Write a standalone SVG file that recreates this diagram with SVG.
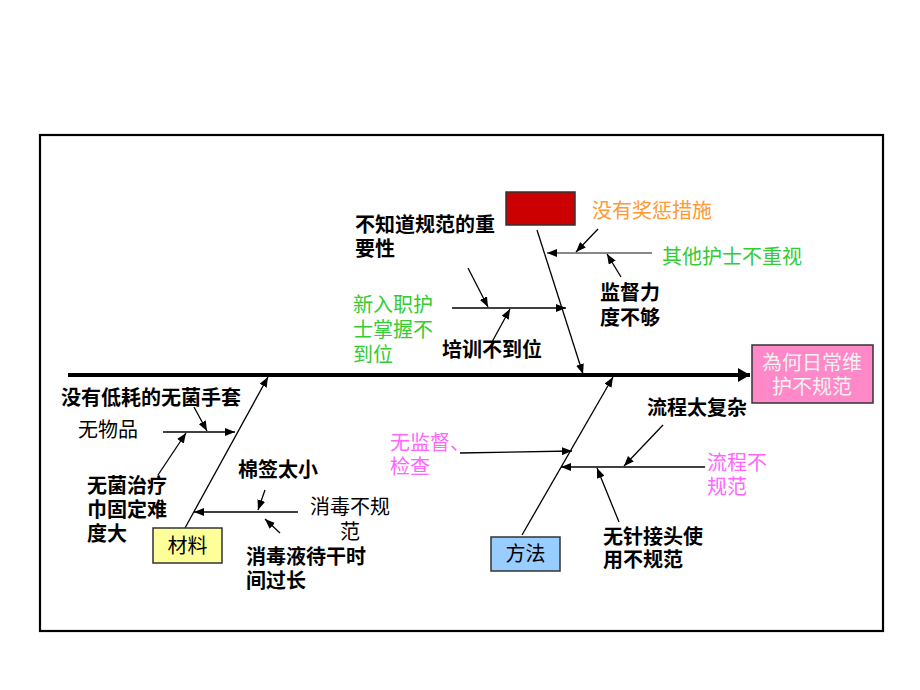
<svg xmlns="http://www.w3.org/2000/svg" width="920" height="690" viewBox="0 0 920 690">
<defs>
<marker id="a" markerUnits="userSpaceOnUse" markerWidth="10" markerHeight="8" refX="10" refY="4" orient="auto"><path d="M0,0 L10,4 L0,8 z" fill="#000"/></marker>
<marker id="big" markerUnits="userSpaceOnUse" markerWidth="12" markerHeight="14" refX="12" refY="7" orient="auto"><path d="M0,0 L12,7 L0,14 z" fill="#000"/></marker>
</defs>
<style>
text{font-family:"Liberation Sans","Noto Sans CJK SC",sans-serif;font-size:20px}
.b{font-weight:bold;fill:#000}
.r{fill:#000}
.o{fill:#FF9933}
.g{fill:#33CC33}
.m{fill:#FF66FF}
.ln{stroke:#000;stroke-width:1.3;fill:none}
.ar{stroke:#000;stroke-width:1.3;fill:none;marker-end:url(#a)}
.box{stroke:#333;stroke-width:1.5}
</style>
<rect x="40" y="135" width="843" height="496" fill="#fff" stroke="#000" stroke-width="2.2"/>

<g id="connectors">
<line x1="68" y1="375" x2="750" y2="375" stroke="#000" stroke-width="4" marker-end="url(#big)"/>
<!-- top bone -->
<line class="ar" x1="537" y1="230" x2="583" y2="374"/>
<line x1="652" y1="253" x2="547" y2="253" stroke="#888" stroke-width="2" marker-end="url(#a)"/>
<line class="ar" x1="598" y1="229" x2="576" y2="252"/>
<line class="ar" x1="621" y1="277" x2="607" y2="254"/>
<line class="ar" x1="452" y1="308" x2="566" y2="308"/>
<line class="ar" x1="468" y1="268" x2="488" y2="307"/>
<line class="ar" x1="492" y1="342" x2="510" y2="309"/>
<!-- materials bone -->
<line class="ar" x1="185" y1="528" x2="268" y2="377"/>
<line class="ar" x1="163" y1="432" x2="235" y2="432"/>
<line class="ar" x1="194" y1="407" x2="207" y2="431"/>
<line class="ar" x1="158" y1="475" x2="186" y2="433"/>
<line class="ar" x1="298" y1="512" x2="194" y2="512"/>
<line class="ar" x1="265" y1="490" x2="258" y2="510"/>
<line class="ar" x1="280" y1="533" x2="265" y2="519"/>
<!-- methods bone -->
<line class="ar" x1="522" y1="535" x2="613" y2="377"/>
<line class="ar" x1="460" y1="453" x2="572" y2="451"/>
<line class="ar" x1="705" y1="467" x2="561" y2="467"/>
<line class="ar" x1="663" y1="425" x2="624" y2="466"/>
<line class="ar" x1="619" y1="522" x2="597" y2="468"/>
</g>

<g id="head">
<rect class="box" x="752" y="345" width="121" height="58" fill="#FF88C8"/>
<text x="812" y="370" text-anchor="middle" fill="#F2F2F2">為何日常维</text>
<text x="812" y="394" text-anchor="middle" fill="#F2F2F2">护不规范</text>
</g>

<g id="red-box">
<rect class="box" x="506" y="192" width="69" height="33" fill="#CC0000"/>
</g>

<g id="materials">
<rect class="box" x="153" y="528" width="69" height="35" fill="#FFFF99"/>
<text class="r" x="187.5" y="553" text-anchor="middle">材料</text>
</g>

<g id="methods">
<rect class="box" x="491" y="537" width="69" height="34" fill="#99CCFF"/>
<text class="r" x="525.5" y="561" text-anchor="middle">方法</text>
</g>

<g id="label-no-reward"><text class="o" x="592" y="218">没有奖惩措施</text></g>
<g id="label-others"><text class="g" x="662" y="264">其他护士不重视</text></g>
<g id="label-supervise"><text class="b" x="600" y="300">监督力</text><text class="b" x="600" y="325">度不够</text></g>
<g id="label-importance"><text class="b" x="355" y="232">不知道规范的重</text><text class="b" x="355" y="256">要性</text></g>
<g id="label-new"><text class="g" x="353" y="312">新入职护</text><text class="g" x="353" y="337">士掌握不</text><text class="g" x="353" y="362">到位</text></g>
<g id="label-train"><text class="b" x="442" y="357">培训不到位</text></g>

<g id="label-gloves"><text class="b" x="61" y="405">没有低耗的无菌手套</text></g>
<g id="label-noitem"><text class="r" x="78" y="437">无物品</text></g>
<g id="label-towel"><text class="b" x="87" y="493">无菌治疗</text><text class="b" x="87" y="517">巾固定难</text><text class="b" x="87" y="541">度大</text></g>
<g id="label-swab"><text class="b" x="238" y="477">棉签太小</text></g>
<g id="label-disinfect"><text class="r" x="350" y="514" text-anchor="middle">消毒不规</text><text class="r" x="350" y="539" text-anchor="middle">范</text></g>
<g id="label-dry"><text class="b" x="246" y="564">消毒液待干时</text><text class="b" x="246" y="588">间过长</text></g>

<g id="label-nosupervision"><text class="m" x="390" y="450">无监督、</text><text class="m" x="390" y="474">检查</text></g>
<g id="label-complex"><text class="b" x="647" y="415">流程太复杂</text></g>
<g id="label-process"><text class="m" x="707" y="470">流程不</text><text class="m" x="707" y="494">规范</text></g>
<g id="label-needle"><text class="b" x="603" y="544">无针接头使</text><text class="b" x="603" y="567">用不规范</text></g>
</svg>
